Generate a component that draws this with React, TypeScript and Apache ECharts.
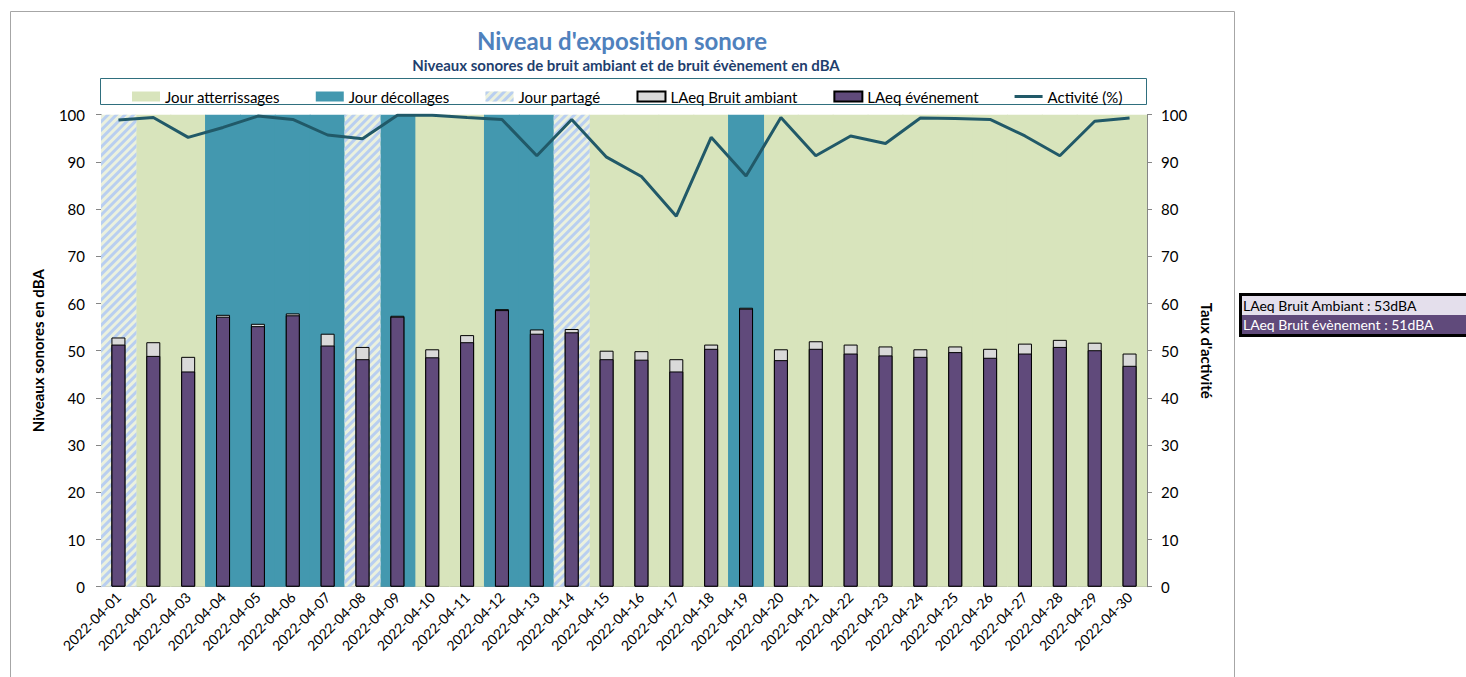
import React, { useEffect, useRef } from 'react';
import * as echarts from 'echarts';

const days = [
  '2022-04-01', '2022-04-02', '2022-04-03', '2022-04-04', '2022-04-05', '2022-04-06',
  '2022-04-07', '2022-04-08', '2022-04-09', '2022-04-10', '2022-04-11', '2022-04-12',
  '2022-04-13', '2022-04-14', '2022-04-15', '2022-04-16', '2022-04-17', '2022-04-18',
  '2022-04-19', '2022-04-20', '2022-04-21', '2022-04-22', '2022-04-23', '2022-04-24',
  '2022-04-25', '2022-04-26', '2022-04-27', '2022-04-28', '2022-04-29', '2022-04-30',
];

// A = atterrissages, D = décollages, P = partagé
const dayType = [
  'P', 'A', 'A', 'D', 'D', 'D', 'D', 'P', 'D', 'A', 'A', 'D', 'D', 'P', 'A',
  'A', 'A', 'A', 'D', 'A', 'A', 'A', 'A', 'A', 'A', 'A', 'A', 'A', 'A', 'A',
];

const ambient = [
  52.8, 51.8, 48.7, 57.6, 55.7, 57.9, 53.6, 50.8, 57.4, 50.3, 53.3, 58.8, 54.5, 54.6, 50.0,
  49.9, 48.2, 51.3, 59.1, 50.3, 52.0, 51.3, 50.9, 50.3, 50.9, 50.4, 51.5, 52.3, 51.7, 49.4,
];

const event = [
  51.3, 48.9, 45.6, 57.2, 55.2, 57.5, 51.1, 48.2, 57.2, 48.6, 51.8, 58.6, 53.6, 53.9, 48.2,
  48.1, 45.6, 50.4, 58.9, 48.0, 50.4, 49.4, 49.0, 48.7, 49.7, 48.5, 49.4, 50.8, 50.1, 46.8,
];

const activity = [
  98.9, 99.4, 95.2, 97.3, 99.7, 99.0, 95.7, 94.9, 99.9, 99.9, 99.4, 99.0, 91.3, 99.0, 91.0,
  86.9, 78.5, 95.2, 87.0, 99.4, 91.3, 95.5, 93.9, 99.3, 99.2, 99.0, 95.5, 91.3, 98.6, 99.3,
];

const bgFull = 100;
const summaryLabels = ['LAeq Bruit Ambiant : 53dBA', 'LAeq Bruit évènement : 51dBA'];

const FONT = 'Lato, "Noto Sans", sans-serif';

export default function App() {
  const ref = useRef<HTMLDivElement>(null);

  useEffect(() => {
    document.body.style.margin = '0';
    const chart = echarts.init(ref.current!, null, { renderer: 'svg' });

    const landing = dayType.map((t) => (t === 'A' ? bgFull : '-'));
    const takeoff = dayType.map((t) => (t === 'D' ? bgFull : '-'));
    const shared = dayType.map((t) => (t === 'P' ? bgFull : '-'));

    const bgCommon = {
      type: 'bar',
      xAxisIndex: 1,
      yAxisIndex: 0,
      stack: 'bg',
      barWidth: 36,
      z: 1,
      silent: true,
    };

    const option = {
      animation: false,
      textStyle: { fontFamily: FONT },
      title: [
        {
          text: "Niveau d'exposition sonore",
          left: 617,
          top: 23,
          textAlign: 'center',
          textStyle: { fontSize: 24, fontWeight: 'bold', color: '#4f81bd', fontFamily: FONT },
        },
        {
          text: 'Niveaux sonores de bruit ambiant et de bruit évènement en dBA',
          left: 621,
          top: 52,
          textAlign: 'center',
          textStyle: { fontSize: 15, fontWeight: 'bold', color: '#1f3f6e', fontFamily: FONT },
        },
      ],
      legend: {
        left: 127,
        top: 84,
        itemWidth: 28,
        itemHeight: 10,
        itemGap: 36,
        textStyle: { fontSize: 15, color: '#000', fontFamily: FONT },
        data: [
          { name: 'Jour atterrissages', icon: 'rect' },
          { name: 'Jour décollages', icon: 'rect' },
          { name: 'Jour partagé', icon: 'rect' },
          { name: 'LAeq Bruit ambiant', icon: 'rect' },
          { name: 'LAeq événement', icon: 'rect' },
          { name: 'Activité (%)', icon: 'path://M0,0 L28,0 L28,3 L0,3 Z' },
        ],
      },
      grid: { left: 101, right: 319, top: 114.7, bottom: 90.3 },
      xAxis: [
        {
          type: 'category',
          data: days,
          axisLine: { lineStyle: { color: '#868686' } },
          axisTick: { length: 5, lineStyle: { color: '#868686' } },
          axisLabel: { rotate: 45, fontSize: 14, color: '#000', interval: 0, margin: 8, fontFamily: FONT },
        },
        { type: 'category', data: days, show: false },
      ],
      yAxis: [
        {
          type: 'value',
          min: 0,
          max: 100,
          interval: 10,
          name: 'Niveaux sonores en dBA',
          nameLocation: 'middle',
          nameGap: 56,
          nameRotate: 90,
          nameTextStyle: { fontWeight: 'bold', fontSize: 15, color: '#000', fontFamily: FONT },
          axisLine: { show: true, lineStyle: { color: '#868686' } },
          axisTick: { show: true, length: 5, lineStyle: { color: '#868686' } },
          splitLine: { show: false },
          axisLabel: { fontSize: 15, color: '#000', margin: 16, fontFamily: FONT },
        },
        {
          type: 'value',
          min: 0,
          max: 100,
          interval: 10,
          position: 'right',
          name: "Taux d'activité",
          nameLocation: 'middle',
          nameGap: 52,
          nameRotate: -90,
          nameTextStyle: { fontWeight: 'bold', fontSize: 15, color: '#000', fontFamily: FONT },
          axisLine: { show: true, lineStyle: { color: '#868686' } },
          axisTick: { show: true, length: 5, lineStyle: { color: '#868686' } },
          splitLine: { show: false },
          axisLabel: { fontSize: 15, color: '#000', margin: 14, fontFamily: FONT },
        },
      ],
      graphic: [
        {
          type: 'rect',
          z: -10,
          shape: { x: 10.5, y: 11.5, width: 1224, height: 720 },
          style: { fill: '#fff', stroke: '#a6a6a6', lineWidth: 1 },
        },
        {
          type: 'rect',
          z: -5,
          shape: { x: 100.5, y: 78.5, width: 1046, height: 26 },
          style: { fill: '#fff', stroke: '#2f6f7e', lineWidth: 1 },
        },
        {
          type: 'group',
          children: [
            { type: 'rect', shape: { x: 1239, y: 293, width: 230, height: 44 }, style: { fill: '#000' } },
            { type: 'rect', shape: { x: 1242, y: 296, width: 230, height: 19 }, style: { fill: '#e4dfec' } },
            { type: 'rect', shape: { x: 1242, y: 315, width: 230, height: 19 }, style: { fill: '#604a7b' } },
            {
              type: 'text',
              x: 1243,
              y: 305.5,
              style: { text: summaryLabels[0], fill: '#000', fontSize: 14, fontFamily: FONT, verticalAlign: 'middle' },
            },
            {
              type: 'text',
              x: 1243,
              y: 324.5,
              style: { text: summaryLabels[1], fill: '#fff', fontSize: 14, fontFamily: FONT, verticalAlign: 'middle' },
            },
          ],
        },
      ],
      series: [
        {
          ...bgCommon,
          name: 'Jour atterrissages',
          data: landing,
          itemStyle: { color: '#d8e4bc' },
        },
        {
          ...bgCommon,
          name: 'Jour décollages',
          data: takeoff,
          itemStyle: { color: '#4398af' },
        },
        {
          ...bgCommon,
          name: 'Jour partagé',
          data: shared,
          itemStyle: {
            color: '#ebf1de',
            decal: {
              symbol: 'rect',
              symbolSize: 1,
              color: '#b9cff0',
              dashArrayX: [1, 0],
              dashArrayY: [3, 3],
              rotation: -Math.PI / 4,
            },
          },
        },
        {
          type: 'bar',
          name: 'LAeq Bruit ambiant',
          data: ambient,
          xAxisIndex: 0,
          barWidth: 14,
          barGap: '-100%',
          z: 2,
          itemStyle: { color: '#d9d9d9', borderColor: '#000', borderWidth: 1 },
        },
        {
          type: 'bar',
          name: 'LAeq événement',
          data: event,
          xAxisIndex: 0,
          barWidth: 14,
          barGap: '-100%',
          z: 3,
          itemStyle: { color: '#604a7b', borderColor: '#000', borderWidth: 1 },
        },
        {
          type: 'line',
          name: 'Activité (%)',
          data: activity,
          xAxisIndex: 0,
          yAxisIndex: 1,
          symbol: 'none',
          z: 4,
          lineStyle: { color: '#215968', width: 3 },
          itemStyle: { color: '#215968' },
        },
      ],
    };

    chart.setOption(option as any);
    return () => chart.dispose();
  }, []);

  return <div ref={ref} style={{ width: 1466, height: 677 }} />;
}
